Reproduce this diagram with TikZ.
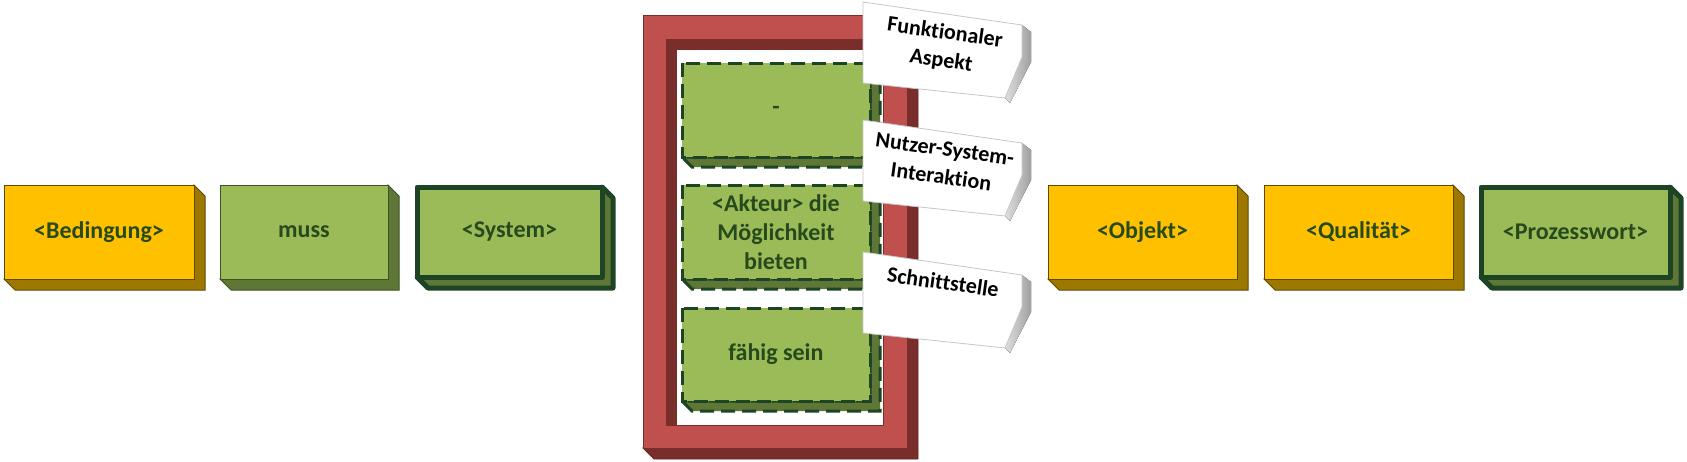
\documentclass[tikz,border=0pt]{standalone}
\usepackage{fontspec}
\setmainfont{Carlito}[Ligatures=CommonOff]
\usetikzlibrary{calc}
\definecolor{gelb}{HTML}{FFC000}
\definecolor{gelbdunkel}{HTML}{9C7800}
\definecolor{gelbrand}{HTML}{5C4A00}
\definecolor{gruen}{HTML}{9BBB59}
\definecolor{gruendunkel}{HTML}{5F7736}
\definecolor{gruenrand}{HTML}{3F5224}
\definecolor{dunkelgruen}{HTML}{1D4424}
\definecolor{textgruen}{HTML}{264A1C}
\definecolor{rahmen}{HTML}{C0504D}
\definecolor{rahmendunkel}{HTML}{7A2E2B}
\newcommand{\boxfont}{\fontsize{24}{29}\selectfont\bfseries}
\newcommand{\schildfont}{\fontsize{22}{28}\selectfont\bfseries}
\tikzset{
  yellowface/.style={fill=gelb, draw=gelbrand, line width=1pt},
  yellowside/.style={fill=gelbdunkel, draw=gelbrand, line width=1pt},
  greenface/.style={fill=gruen, draw=gruenrand, line width=1pt},
  greenside/.style={fill=gruendunkel, draw=gruenrand, line width=1pt},
  heavyface/.style={fill=gruen, draw=dunkelgruen, line width=5pt, line join=round},
  heavyside/.style={fill=gruendunkel, draw=dunkelgruen, line width=5pt, line join=round},
  dashface/.style={fill=gruen, draw=dunkelgruen, line width=3pt, dash pattern=on 14pt off 7pt},
  dashside/.style={fill=gruendunkel, draw=dunkelgruen, line width=3pt, dash pattern=on 14pt off 7pt},
  boxtext/.style={font=\boxfont, text=textgruen, align=center},
  schildtext/.style={font=\schildfont, text=black, align=center, rotate=-8, inner sep=1pt},
}
% quader: name, top left, bottom right, depth, kind, text
\newcommand{\quader}[6]{%
  \coordinate (#1a) at (#2);
  \coordinate (#1c) at (#3);
  \draw[#5side] (#1a -| #1c) -- ++(#4,#4) -- ($(#1c)+(#4,#4)$) -- ($(#1a |- #1c)+(#4,#4)$) -- (#1a |- #1c) -- (#1c) -- cycle;
  \draw[#5face] (#1a) rectangle (#1c);
  \node[boxtext] (#1) at ($(#1a)!0.5!(#1c)$) {#6};
}
% schild: name, vertical offset, text offset, text
\newcommand{\schild}[4]{%
  \begin{scope}[shift={(0,#2)}]
  \fill[left color=gray!25, right color=gray!75] (1022,25) -- (1031,32) -- (1031,62) -- (1010,103) -- (1005,98) -- (1022,57) -- cycle;
  \draw[fill=white, draw=gray!45, line width=0.8pt] (863,2) -- (1022,25) -- (1022,57) -- (1005,98) -- (863,83) -- cycle;
  \node[schildtext] (#1) at (943,#3) {#4};
  \end{scope}
}

\begin{document}
\begin{tikzpicture}[x=1pt, y=-1pt]
\useasboundingbox (0,0) rectangle (1687,461);

\quader{bedingung}{4,185}{194,279}{11}{yellow}{<Bedingung>}
\quader{muss}{220,185}{388,279}{11}{green}{muss}
\quader{system}{417,187}{602,277}{11}{heavy}{<System>}

%rahmen
\draw[fill=rahmendunkel, draw=rahmendunkel!80!black, line width=0.8pt] (907,15) -- (918,26) -- (918,459) -- (654,459) -- (643,448) -- (907,448) -- cycle;
\draw[fill=rahmen, draw=rahmendunkel, line width=0.8pt, even odd rule] (643,15) rectangle (907,448) (666,39) rectangle (883,425);
\fill[rahmendunkel] (666,39) rectangle (883,425);
\fill[white] (677,50) rectangle (883,425);

\quader{leer}{682,63}{870,157}{10}{dash}{-}
\quader{akteur}{682,185}{870,279}{10}{dash}{<Akteur> die\\Möglichkeit\\bieten}
\quader{faehig}{682,308}{870,401}{10}{dash}{fähig sein}

\schild{funktional}{0}{47}{Funktionaler\\Aspekt}
\schild{interaktion}{118}{45}{Nutzer-System-\\Interaktion}
\schild{schnittstelle}{250}{32}{Schnittstelle}

\quader{objekt}{1048,185}{1237,279}{11}{yellow}{<Objekt>}
\quader{qualitaet}{1264,185}{1453,279}{11}{yellow}{<Qualität>}
\quader{prozesswort}{1481,187}{1670,277}{11}{heavy}{<Prozesswort>}
\end{tikzpicture}
\end{document}
